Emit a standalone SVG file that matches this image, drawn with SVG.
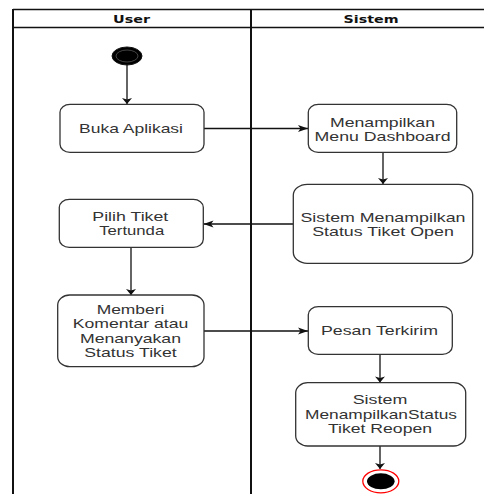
<svg xmlns="http://www.w3.org/2000/svg" width="484" height="494" viewBox="0 0 484 494">
<style>
.box{fill:#fff;stroke:#333;stroke-width:1.3}
.t{font-family:"Liberation Sans",Arial,sans-serif;font-size:13px;fill:#333;text-anchor:middle}
.h{font-family:"DejaVu Sans",Verdana,sans-serif;font-size:11px;font-weight:bold;fill:#111;text-anchor:middle}
.c{fill:none;stroke:#111;stroke-width:1.3}
.ch{marker-end:url(#ah)}
.cv{marker-end:url(#av)}
.lane{stroke:#111;fill:none}
</style>
<defs>
<marker id="ah" markerUnits="userSpaceOnUse" markerWidth="10" markerHeight="7" refX="10" refY="3.5" orient="auto" overflow="visible">
<path d="M0,0 L10,3.5 L0,7 L2.5,3.5 Z" fill="#111"/>
</marker>
<marker id="av" markerUnits="userSpaceOnUse" markerWidth="7" markerHeight="10" refX="6" refY="5" orient="auto" overflow="visible">
<path d="M0,0 L6,5 L0,10 L1.5,5 Z" fill="#111"/>
</marker>
</defs>
<rect width="484" height="494" fill="#fff"/>
<g id="swimlanes">
<path class="lane" stroke-width="1.3" d="M13,9.5 H484 M13,27.5 H484"/>
<path class="lane" stroke-width="2" d="M13,9 V494 M251,9 V494"/>
<text class="h" x="131.5" y="23" textLength="37" lengthAdjust="spacingAndGlyphs">User</text>
<text class="h" x="371" y="23" textLength="55" lengthAdjust="spacingAndGlyphs">Sistem</text>
</g>
<g id="connectors">
<path class="c cv" d="M127,65 V104"/>
<path class="c ch" d="M204,128.5 H308"/>
<path class="c cv" d="M383,152 V184"/>
<path class="c ch" d="M293,224 H203.5"/>
<path class="c cv" d="M131,247 V295"/>
<path class="c ch" d="M204,331 H308"/>
<path class="c cv" d="M380,354 V382.5"/>
<path class="c cv" d="M380,446 V469"/>
</g>
<g id="start">
<ellipse cx="127" cy="56" rx="15" ry="9" fill="#000" stroke="#111" stroke-width="1"/>
<ellipse cx="127" cy="56" rx="11" ry="6" fill="none" stroke="#555" stroke-width="0.8"/>
</g>
<g id="buka-aplikasi">
<rect class="box" x="60" y="104.3" width="144" height="48" rx="10" ry="8"/>
<text class="t" x="131" y="133" textLength="104" lengthAdjust="spacingAndGlyphs">Buka Aplikasi</text>
</g>
<g id="menampilkan-menu">
<rect class="box" x="308.3" y="104.3" width="148.4" height="48" rx="10" ry="8"/>
<text class="t" x="382.5" y="126.7" textLength="105" lengthAdjust="spacingAndGlyphs">Menampilkan</text>
<text class="t" x="382.5" y="140.7" textLength="136" lengthAdjust="spacingAndGlyphs">Menu Dashboard</text>
</g>
<g id="status-open">
<rect class="box" x="293.3" y="184.3" width="179.4" height="79" rx="14" ry="11"/>
<text class="t" x="383" y="221.7" textLength="165" lengthAdjust="spacingAndGlyphs">Sistem Menampilkan</text>
<text class="t" x="383" y="235.7" textLength="141.7" lengthAdjust="spacingAndGlyphs">Status Tiket Open</text>
</g>
<g id="pilih-tiket">
<rect class="box" x="59.3" y="199.3" width="144" height="48" rx="10" ry="8"/>
<text class="t" x="130.3" y="220.7" textLength="76" lengthAdjust="spacingAndGlyphs">Pilih Tiket</text>
<text class="t" x="131.7" y="235" textLength="65" lengthAdjust="spacingAndGlyphs">Tertunda</text>
</g>
<g id="memberi-komentar">
<rect class="box" x="57.7" y="295" width="146.3" height="71.7" rx="12" ry="10"/>
<text class="t" x="130.5" y="314.3" textLength="67.7" lengthAdjust="spacingAndGlyphs">Memberi</text>
<text class="t" x="130.5" y="328.3" textLength="115.7" lengthAdjust="spacingAndGlyphs">Komentar atau</text>
<text class="t" x="130.5" y="342.7" textLength="101" lengthAdjust="spacingAndGlyphs">Menanyakan</text>
<text class="t" x="130.5" y="356.7" textLength="92.3" lengthAdjust="spacingAndGlyphs">Status Tiket</text>
</g>
<g id="pesan-terkirim">
<rect class="box" x="308.3" y="306.7" width="144" height="47.6" rx="10" ry="8"/>
<text class="t" x="379.5" y="335" textLength="117" lengthAdjust="spacingAndGlyphs">Pesan Terkirim</text>
</g>
<g id="status-reopen">
<rect class="box" x="295.7" y="382.7" width="170" height="63.3" rx="12" ry="10"/>
<text class="t" x="380" y="404.3" textLength="54.6" lengthAdjust="spacingAndGlyphs">Sistem</text>
<text class="t" x="381" y="419" textLength="152" lengthAdjust="spacingAndGlyphs">MenampilkanStatus</text>
<text class="t" x="380" y="433.3" textLength="104" lengthAdjust="spacingAndGlyphs">Tiket Reopen</text>
</g>
<g id="end">
<ellipse cx="380.8" cy="481.3" rx="18" ry="11.5" fill="#fff" stroke="#f00" stroke-width="1.3"/>
<ellipse cx="380.8" cy="481.3" rx="13.8" ry="8" fill="#000"/>
</g>
</svg>
